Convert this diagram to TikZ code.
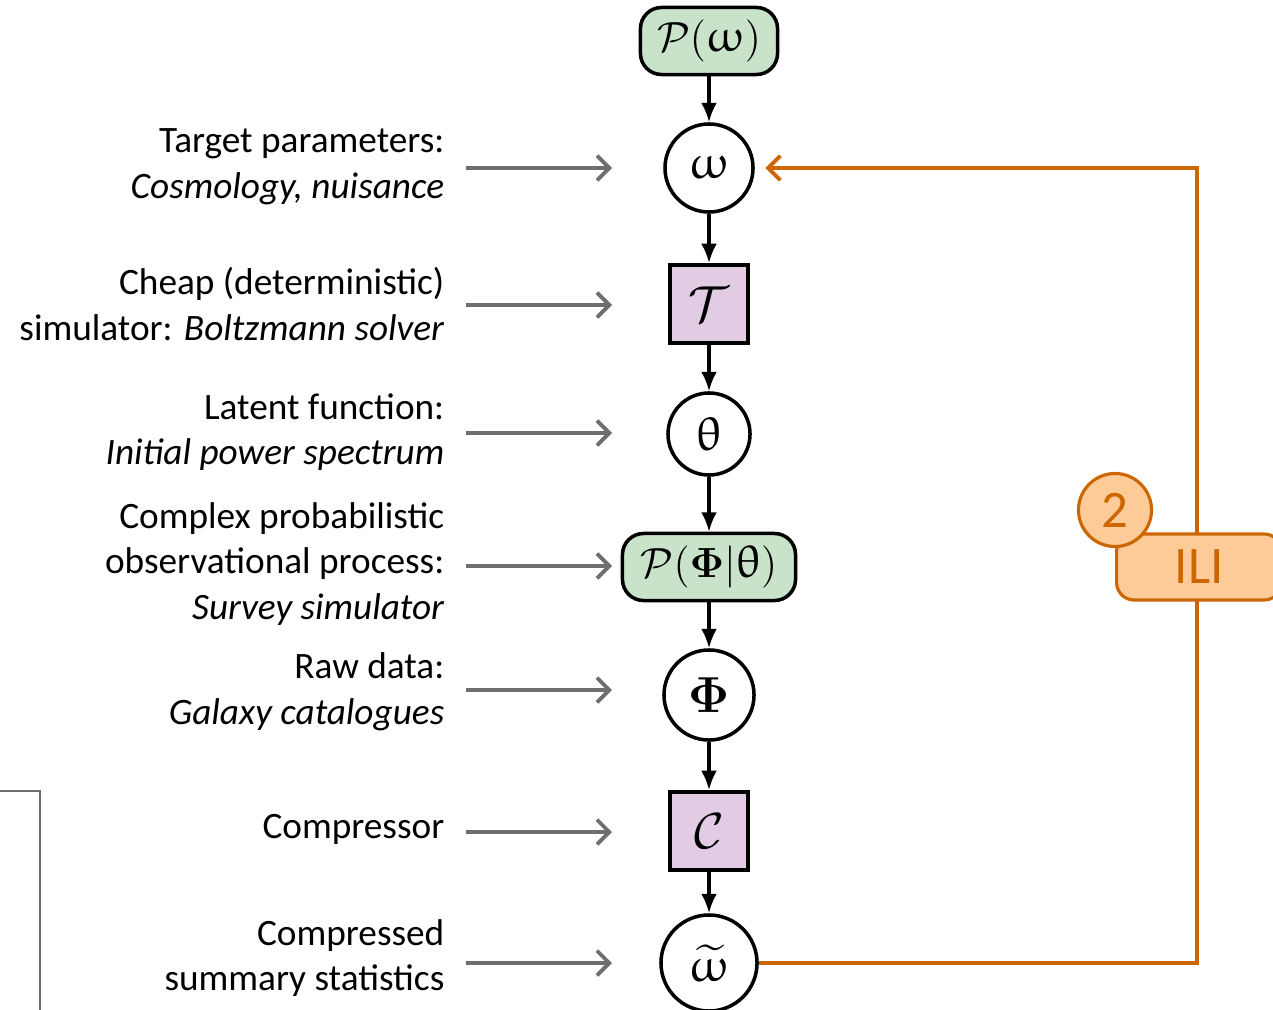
\documentclass[tikz,border=0pt]{standalone}
\usepackage{fontspec}
\setmainfont{Carlito}
\usepackage{amsmath}
\usepackage{upgreek}
\usepackage{xcolor}
\usepackage{tikz}
\usetikzlibrary{arrows.meta, positioning}

\definecolor{pgreen}{RGB}{201,227,202}
\definecolor{ppurple}{RGB}{225,204,228}
\definecolor{ilifill}{RGB}{253,203,152}
\definecolor{iliorange}{RGB}{204,102,0}
\definecolor{lblgray}{RGB}{110,110,110}

\begin{document}
\begin{tikzpicture}[x=0.01cm, y=-0.01cm,
      dist/.style={draw, rounded corners=6pt, line width=1pt, fill=pgreen,
                   minimum height=0.67cm, inner xsep=2pt,
                   font=\fontsize{13}{15}\selectfont},
      var/.style={draw, circle, line width=1pt, fill=white, inner sep=0pt,
                  font=\fontsize{13.5}{15}\selectfont},
      sim/.style={draw, line width=1.1pt, fill=ppurple, minimum size=0.78cm,
                  inner sep=0pt, font=\fontsize{13.5}{15}\selectfont},
      lbl/.style={anchor=east, align=right, inner sep=0pt,
                  font=\fontsize{10.6}{13}\selectfont},
      arr/.style={-{Latex[length=5.5pt,width=4.5pt]}, line width=0.9pt},
      garr/.style={-{Straight Barb[length=3.5pt,width=7pt]}, line width=1.1pt, lblgray},
      oarr/.style={-{Straight Barb[length=3.5pt,width=7pt]}, line width=1.1pt, iliorange}
    ]
    \clip (0,0) rectangle (1273,1009);

    %% ---- model column ----
    \node[dist, minimum width=1.37cm] at (709,41)  (pw)  {$\mathcal{P}(\upomega)$};
    \node[var, minimum size=0.88cm]   at (709,168) (w)   {$\upomega$};
    \node[sim]                        at (709,304) (T)   {$\mathcal{T}$};
    \node[var, minimum size=0.82cm]   at (709,434) (th)  {$\uptheta$};
    \node[dist, minimum width=1.73cm] at (709,567) (pphi) {$\mathcal{P}(\boldsymbol{\Phi}|\uptheta)$};
    \node[var, minimum size=0.90cm]   at (709,695) (phi) {$\boldsymbol{\Phi}$};
    \node[sim]                        at (709,831) (C)   {$\mathcal{C}$};
    \node[var, minimum size=0.96cm]   at (709,963) (wt)  {$\widetilde{\upomega}$};

    %% ---- labels ----
    \node[lbl] at (445,167) (l1) {Target parameters:\\ \textit{Cosmology, nuisance}};
    \node[lbl] at (445,304) (l2) {Cheap (deterministic)\\ simulator: \textit{Boltzmann solver}};
    \node[lbl] at (445,432) (l3) {Latent function:\\ \textit{Initial power spectrum}};
    \node[lbl] at (445,564) (l4) {Complex probabilistic\\ observational process:\\ \textit{Survey simulator}};
    \node[lbl] at (445,692) (l5) {Raw data:\\ \textit{Galaxy catalogues}};
    \node[lbl] at (445,829) (l6) {Compressor};
    \node[lbl] at (445,958) (l7) {Compressed\\ summary statistics};

    %% ---- edges ----
    \draw[arr] (pw) -- (w);
    \draw[arr] (w) -- (T);
    \draw[arr] (T) -- (th);
    \draw[arr] (th) -- (pphi);
    \draw[arr] (pphi) -- (phi);
    \draw[arr] (phi) -- (C);
    \draw[arr] (C) -- (wt);

    %% label -> node pointers
    \foreach \i/\y in {1/168, 2/305, 3/433, 4/566, 5/690, 6/832, 7/963} {
      \coordinate (gs\i) at (466,\y);
      \coordinate (ge\i) at (612,\y);
      \draw[garr] (gs\i) -- (ge\i);
    }

    %% ILI feedback loop
    \coordinate (lb) at (1197,963);
    \coordinate (lt) at (1197,168);
    \draw[oarr, shorten >=3pt] (wt.east) -- (lb) -- (lt) -- (w.east);

    \node[draw=iliorange, line width=0.9pt, fill=ilifill, rounded corners=5pt,
          anchor=west, minimum width=1.65cm, minimum height=0.66cm,
          text=iliorange, font=\fontsize{15}{17}\selectfont]
          at (1115,567) (ili) {ILI};
    \node[draw=iliorange, line width=0.9pt, fill=ilifill, circle,
          minimum size=0.73cm, inner sep=0pt,
          text=iliorange, font=\fontsize{15}{17}\selectfont]
          at (1115,510) (two) {2};

    %% partial frame, bottom left
    \draw[lblgray, line width=0.6pt] (0,791) -- (40,791) -- (40,1015);

  \end{tikzpicture}
\end{document}
